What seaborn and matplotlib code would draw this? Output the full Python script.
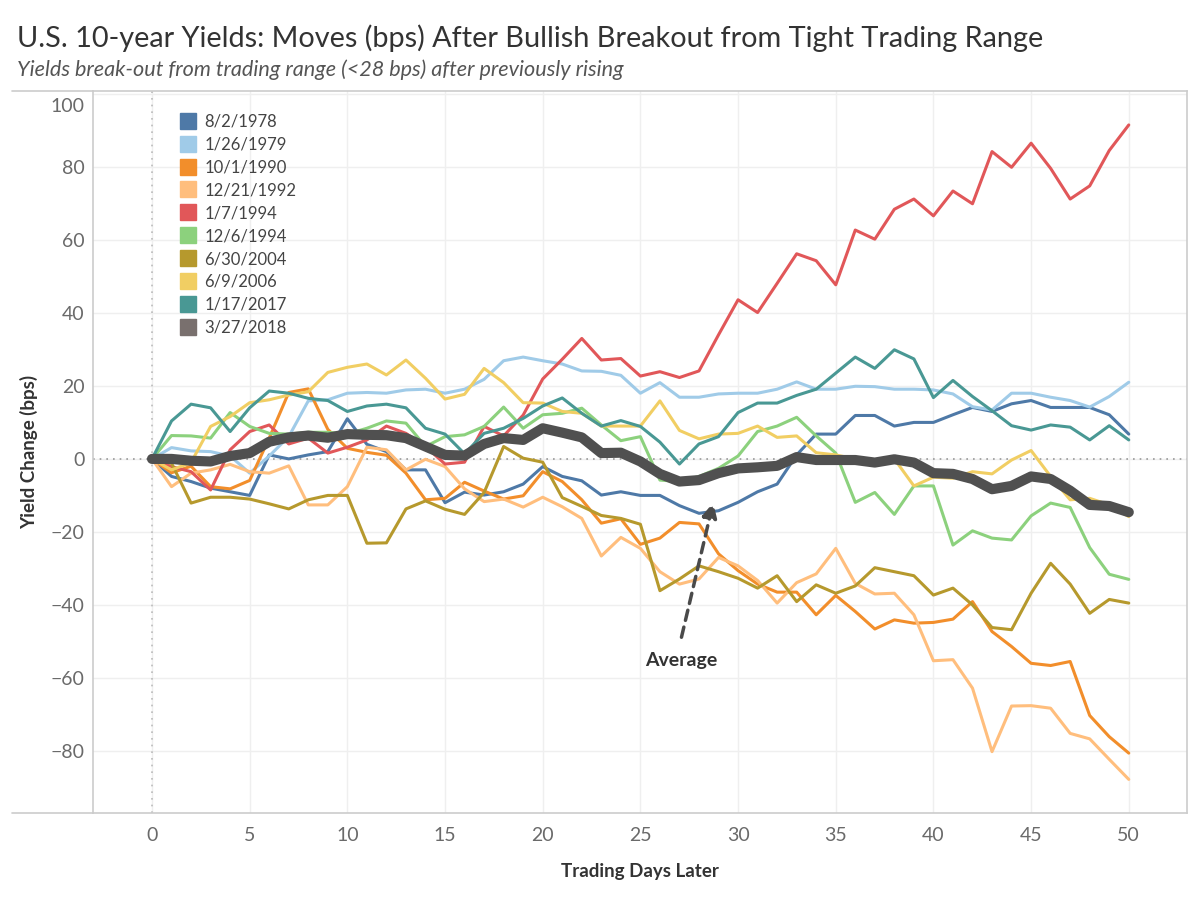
import pandas as pd
import numpy as np
import matplotlib
matplotlib.use('Agg')
import matplotlib.pyplot as plt
import matplotlib.transforms as mtransforms
from matplotlib.lines import Line2D
import seaborn as sns

# dados (bps de variacao a partir do dia 0)
dias = list(range(51))

s_1978 = [0, -4.8, -6.2, -8, -9, -10, 1.1, 0, 1.1, 2, 11, 4, 2, -3, -3, -12, -9.1, -9.9, -9, -6.9,
          -2.1, -4.8, -6, -9.9, -9, -10, -10, -12.8, -14.9, -14.2, -11.9, -9, -6.9, 1.1, 6.8, 6.8,
          11.9, 11.9, 9, 10, 10, 12.1, 14.1, 13, 15.1, 16, 14.1, 14.1, 14.1, 12.1, 6.8]
s_1979 = [0, 3.1, 2.2, 2, 0.8, -3.9, 0.8, 6.1, 15.9, 16.2, 18, 18.2, 18, 18.9, 19.1, 18, 19.1, 21.8,
          26.9, 27.9, 26.9, 26, 24.1, 24, 22.9, 18, 20.9, 16.9, 16.9, 17.8, 18, 18, 19.1, 21.1, 19.1,
          19.1, 19.9, 19.8, 19.1, 19.1, 18.9, 17.8, 14.3, 13.4, 18, 18, 16.9, 16, 14.2, 17.1, 21]
s_1990 = [0, -3.8, -2, -7.6, -8.2, -5.9, 5.7, 18.2, 19.2, 8.1, 2.9, 1.8, 1, -3.9, -11.2, -10.8, -6.4,
          -8.8, -11, -10.1, -3.5, -6.2, -11.2, -17.6, -16.4, -23.4, -21.7, -17.4, -17.8, -26, -30.6,
          -34.3, -36.5, -36.5, -42.7, -37.4, -41.8, -46.6, -44.1, -45, -44.8, -43.9, -39.1, -47.3,
          -51.4, -56, -56.6, -55.5, -70.3, -76.1, -80.6]
s_1992 = [0, -7.6, -3.9, -3, -1.5, -3.5, -3.9, -1.9, -12.6, -12.6, -7.6, 3.2, 2.5, -3, -0.1, -2.1,
          -8.2, -11.7, -11, -13.2, -10.5, -13.1, -16.3, -26.6, -21.5, -24.5, -30.9, -34.3, -32.9, -27,
          -29.3, -33.3, -39.5, -33.9, -31.5, -24.5, -34.1, -37, -36.8, -42.7, -55.3, -55, -62.8,
          -80.2, -67.7, -67.6, -68.3, -75.2, -76.7, -82.3, -87.8]
s_1994a = [0, -2.1, -3.5, -8.5, 2.5, 7.5, 9.3, 4.1, 5.7, 1.6, 3.2, 5.2, 9, 7, 3.4, -1.4, -0.9, 8.9,
           6.3, 12, 21.9, 27.3, 33, 27.1, 27.5, 22.7, 23.9, 22.3, 24.1, 34, 43.6, 40.1, 48.1, 56.2,
           54.3, 47.7, 62.7, 60.2, 68.4, 71.2, 66.6, 73.4, 69.9, 84.2, 79.9, 86.5, 79.6, 71.2, 74.8,
           84.5, 91.5]
s_1994b = [0, 6.4, 6.3, 5.7, 12.7, 8.9, 7, 6.8, 7.3, 7.3, 6.8, 8.4, 10.4, 9.8, 3.4, 6.1, 6.6, 8.9,
           14.2, 8.4, 12.1, 12.5, 13.9, 9.3, 5, 6.1, -5.8, -6.2, -4.8, -2.6, 0.8, 7.5, 9, 11.4, 6.3,
           1.6, -11.9, -9.2, -15.2, -7.4, -7.4, -23.6, -19.7, -21.7, -22.2, -15.6, -12.1, -13.3,
           -24.3, -31.6, -33]
s_2004 = [0, -1.2, -12.1, -10.5, -10.5, -11, -12.3, -13.7, -11.2, -10, -10, -23.1, -23, -13.7, -11.5,
          -13.8, -15.2, -9.2, 3.4, 0.2, -0.9, -10.6, -13, -15.5, -16.3, -17.9, -36.1, -32.9, -29.3,
          -30.9, -32.7, -35.4, -32, -39.1, -34.5, -36.8, -34.8, -29.8, -30.9, -32, -37.3, -35.4, -40,
          -46.2, -46.8, -36.8, -28.6, -34.3, -42.3, -38.5, -39.5]
s_2006 = [0, -3, -1, 8.9, 11.6, 15.4, 16.2, 17.5, 18.4, 23.7, 25.1, 26, 23, 27.1, 22.1, 16.4, 17.7,
          24.8, 20.9, 15.4, 15.3, 13, 12.5, 9, 9, 9, 15.9, 7.8, 5.5, 6.8, 7, 9, 5.9, 6.3, 1.7, 1.1, 0,
          -0.5, 0, -7.4, -5, -5.3, -3.5, -4.1, -0.3, 2.3, -4.8, -11.2, -10.8, -12.6, -15.8]
s_2017 = [0, 10.4, 15, 14, 7.5, 14, 18.6, 18, 16.6, 16, 13, 14.5, 15, 14, 8.4, 6.8, 1.4, 7, 8.4,
          11.1, 14.5, 16.7, 12.5, 9, 10.5, 8.9, 4.6, -1.4, 4.1, 6.1, 12.7, 15.3, 15.3, 17.4, 19.1,
          23.5, 27.9, 24.8, 29.9, 27.4, 16.8, 21.5, 17.1, 13.2, 9.1, 7.9, 9.3, 8.7, 5.2, 9.1, 5.2]
s_2018 = [0]  # serie ainda curta, aparece so na legenda

media = [0, 0, -0.5, -0.7, 0.8, 1.6, 4.7, 5.9, 6.4, 5.8, 6.8, 6.6, 6.5, 5.7, 3.4, 1.1, 0.9, 4.1,
         5.7, 5.2, 8.4, 7.2, 5.9, 1.6, 1.7, -0.7, -4.1, -6.2, -5.8, -3.9, -2.6, -2.3, -1.9, 0.5,
         -0.3, -0.3, -0.3, -1, -0.1, -1, -3.9, -4.1, -5.5, -8.3, -7.4, -4.8, -5.5, -8.7, -12.6,
         -12.9, -14.6]

nomes = ['8/2/1978', '1/26/1979', '10/1/1990', '12/21/1992', '1/7/1994',
         '12/6/1994', '6/30/2004', '6/9/2006', '1/17/2017', '3/27/2018']
series = [s_1978, s_1979, s_1990, s_1992, s_1994a, s_1994b, s_2004, s_2006, s_2017, s_2018]
cores = ['#4e79a7', '#a0cbe8', '#f28e2b', '#ffbe7d', '#e15759',
         '#8cd17d', '#b6992d', '#f1ce63', '#499894', '#79706e']

linhas = []
for nome, vals in zip(nomes, series):
    for d, v in zip(dias, vals):
        linhas.append({'dia': d, 'bps': v, 'data': nome})
df = pd.DataFrame(linhas)
df_media = pd.DataFrame({'dia': dias, 'bps': media})

sns.set_theme(style='white')
plt.rcParams['font.family'] = ['Lato', 'DejaVu Sans']

fig = plt.figure(figsize=(12, 9), dpi=100)
ax = fig.add_axes([0.0775, 0.0967, 0.9115, 0.8022])

# grade
for v in range(-80, 101, 20):
    ax.axhline(v, color='#efefef', lw=1, zorder=0)
for d in range(0, 51, 5):
    ax.axvline(d, color='#efefef', lw=1, zorder=0)
ax.axhline(0, color='#999999', lw=1.2, ls=(0, (1, 3)), zorder=1)
ax.axvline(0, color='#bbbbbb', lw=1.2, ls=(0, (1, 3)), zorder=1)

paleta = dict(zip(nomes, cores))
sns.lineplot(data=df, x='dia', y='bps', hue='data', palette=paleta,
             hue_order=nomes, lw=2.2, ax=ax, legend=False, zorder=3)
sns.lineplot(data=df_media, x='dia', y='bps', color='#505050', lw=7.3,
             ax=ax, legend=False, zorder=4, solid_capstyle='round')

ax.set_xlim(-3.02, 52.97)
ax.set_ylim(-97, 100.8)
ax.set_xticks(range(0, 51, 5))
ax.set_yticks(range(-80, 101, 20))
ax.tick_params(axis='both', length=0, labelsize=14, labelcolor='#6a6a6a')
ax.tick_params(axis='y', pad=6)
ax.tick_params(axis='x', pad=10)
# rotulo do 100 fica um pouco abaixo, como no original
top_lbl = ax.get_yticklabels()[-1]
top_lbl.set_transform(top_lbl.get_transform() +
                      mtransforms.ScaledTranslation(0, -11 / 100, fig.dpi_scale_trans))
for s in ax.spines.values():
    s.set_color('#cccccc')
    s.set_linewidth(1.2)

ax.set_xlabel('Trading Days Later', fontsize=13.5, fontweight='bold', color='#333333', labelpad=14)
ax.set_ylabel('Yield Change (bps)', fontsize=13.5, fontweight='bold', color='#333333')
ax.yaxis.set_label_coords(-0.05, 0.5)

# linhas do quadro que se estendem ate a esquerda
fig.add_artist(Line2D([0.01, 0.0775], [0.8989, 0.8989], color='#cccccc', lw=1.2))
fig.add_artist(Line2D([0.01, 0.0775], [0.0967, 0.0967], color='#cccccc', lw=1.2))

# legenda
handles = [Line2D([], [], marker='s', ls='none', markersize=11, color=c) for c in cores]
ax.legend(handles, nomes, loc='upper left', bbox_to_anchor=(0.073, 0.978), frameon=False,
          fontsize=12, labelspacing=0.415, handletextpad=0.5, labelcolor='#444444',
          handlelength=1.0, borderaxespad=0)

# anotacao da media
ax.annotate('', xy=(28.76, -11.2), xytext=(27.07, -49.6),
            arrowprops=dict(arrowstyle='-|>', color='#4a4a4a', lw=2.5, ls=(0, (3, 2)),
                            mutation_scale=22))
ax.text(27.07, -55.3, 'Average', ha='center', va='center', fontsize=14,
        fontweight='bold', color='#333333')

fig.text(0.014, 0.958, 'U.S. 10-year Yields: Moves (bps) After Bullish Breakout from Tight Trading Range',
         fontsize=20.8, color='#333333', va='center', ha='left')
fig.text(0.014, 0.922, 'Yields break-out from trading range (<28 bps) after previously rising',
         fontsize=15.6, color='#555555', style='italic', va='center', ha='left')

fig.savefig('out.png', dpi=100)
